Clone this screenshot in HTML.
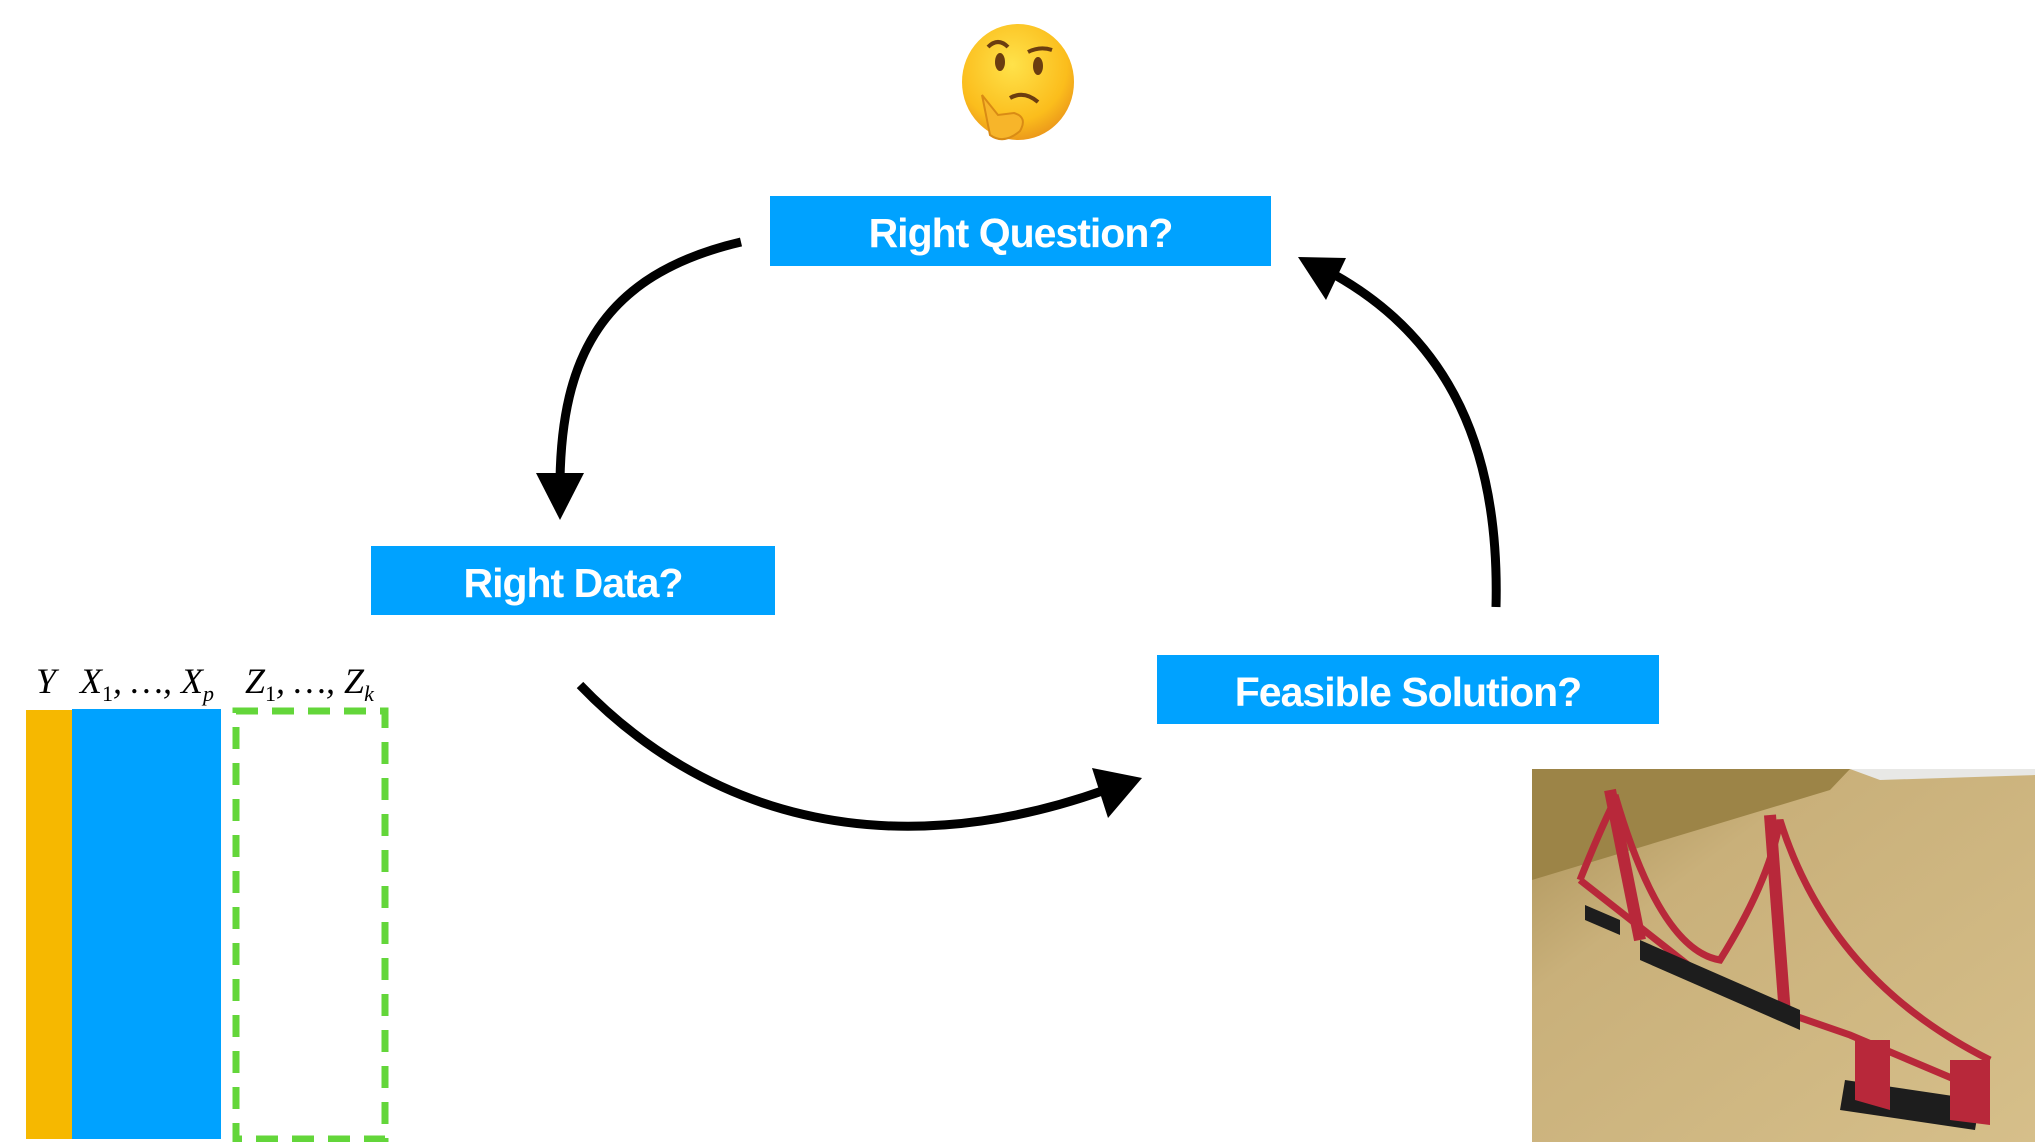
<!DOCTYPE html>
<html><head><meta charset="utf-8"><style>
html,body{margin:0;padding:0;background:#fff;}
body{width:2035px;height:1142px;position:relative;overflow:hidden;font-family:"Liberation Sans",sans-serif;}
.box{position:absolute;background:#00a2ff;color:#fff;font-size:41px;font-weight:bold;display:flex;align-items:center;justify-content:center;letter-spacing:-1px;padding-top:5px;box-sizing:border-box;}
.lab{position:absolute;font-family:"Liberation Serif",serif;font-style:italic;font-size:36px;color:#000;}
.lab sub{font-size:22px;}
.lab sub.u{font-style:normal;}
</style></head><body>
<svg width="2035" height="1142" style="position:absolute;left:0;top:0">
 <defs>
  <radialGradient id="fg" cx="0.45" cy="0.35" r="0.7"><stop offset="0" stop-color="#ffe24a"/><stop offset="0.7" stop-color="#fbbd1c"/><stop offset="1" stop-color="#e8901a"/></radialGradient>
  <linearGradient id="ph" x1="0" y1="0" x2="1" y2="1"><stop offset="0" stop-color="#a88f55"/><stop offset="0.3" stop-color="#c9b07a"/><stop offset="1" stop-color="#d6bf8a"/></linearGradient>
 </defs>
 <ellipse cx="1018" cy="82" rx="56" ry="58" fill="url(#fg)"/>
 <ellipse cx="1000" cy="62" rx="5" ry="9" fill="#6b3d10"/>
 <ellipse cx="1038" cy="66" rx="5" ry="9" fill="#6b3d10"/>
 <path d="M988 47 q10 -10 20 0" stroke="#6b3d10" stroke-width="4" fill="none"/>
 <path d="M1028 52 q12 -6 24 -2" stroke="#6b3d10" stroke-width="4" fill="none"/>
 <path d="M1010 98 q14 -8 28 4" stroke="#6b3d10" stroke-width="4" fill="none"/>
 <path d="M982 95 l8 40 q14 10 30 -4 q8 -14 -6 -18 l-16 2 z" fill="#f7b52a" stroke="#d98b15" stroke-width="2"/>
 <g stroke="#000" stroke-width="9" fill="none">
  <path d="M741 242 C600 275 562 360 560 480"/>
  <path d="M580 685 C700 810 880 870 1105 790"/>
  <path d="M1496 607 C1500 450 1450 340 1335 275"/>
 </g>
 <g fill="#000">
  <polygon points="536,473 584,473 560,520"/>
  <polygon points="1092,768 1142,778 1108,818"/>
  <polygon points="1298,257 1346,258 1326,300"/>
 </g>
 <rect x="26" y="710" width="46" height="429" fill="#f6b800"/>
 <rect x="72" y="709" width="149" height="430" fill="#00a2ff"/>
 <rect x="236" y="711" width="149" height="428" fill="none" stroke="#63d63a" stroke-width="7" stroke-dasharray="22 14"/>
 <rect x="1532" y="769" width="503" height="373" fill="url(#ph)"/>
 <polygon points="1532,769 1850,769 1830,790 1532,880" fill="#9c8447"/>
 <polygon points="1850,769 2035,769 2035,775 1880,780" fill="#e8e8e6"/>
 <g stroke="#b8283a" stroke-width="7" fill="none">
  <path d="M1580 880 L1720 990 L1850 1035 L1980 1090"/>
  <path d="M1615 795 Q1660 950 1720 960 Q1770 880 1780 820 Q1830 980 1990 1060"/>
  <path d="M1580 880 Q1600 830 1615 800"/>
  <line x1="1610" y1="790" x2="1640" y2="940" stroke-width="12"/>
  <line x1="1770" y1="815" x2="1785" y2="1015" stroke-width="12"/>
 </g>
 <g fill="#1d1d1d">
  <polygon points="1585,905 1620,920 1620,935 1585,920"/>
  <polygon points="1640,940 1800,1010 1800,1030 1640,960"/>
  <polygon points="1845,1080 1980,1100 1975,1130 1840,1110"/>
 </g>
 <polygon points="1855,1040 1890,1040 1890,1110 1855,1100" fill="#b8283a"/>
 <polygon points="1950,1060 1990,1060 1990,1125 1950,1120" fill="#b8283a"/>
</svg>
<div class="box" style="left:770px;top:196px;width:501px;height:70px;">Right Question?</div>
<div class="box" style="left:371px;top:546px;width:404px;height:69px;">Right Data?</div>
<div class="box" style="left:1157px;top:655px;width:502px;height:69px;">Feasible Solution?</div>
<div class="lab" style="left:36px;top:660px;">Y</div>
<div class="lab" style="left:80px;top:660px;">X<sub class="u">1</sub>, …, X<sub>p</sub></div>
<div class="lab" style="left:245px;top:660px;">Z<sub class="u">1</sub>, …, Z<sub>k</sub></div>
</body></html>
